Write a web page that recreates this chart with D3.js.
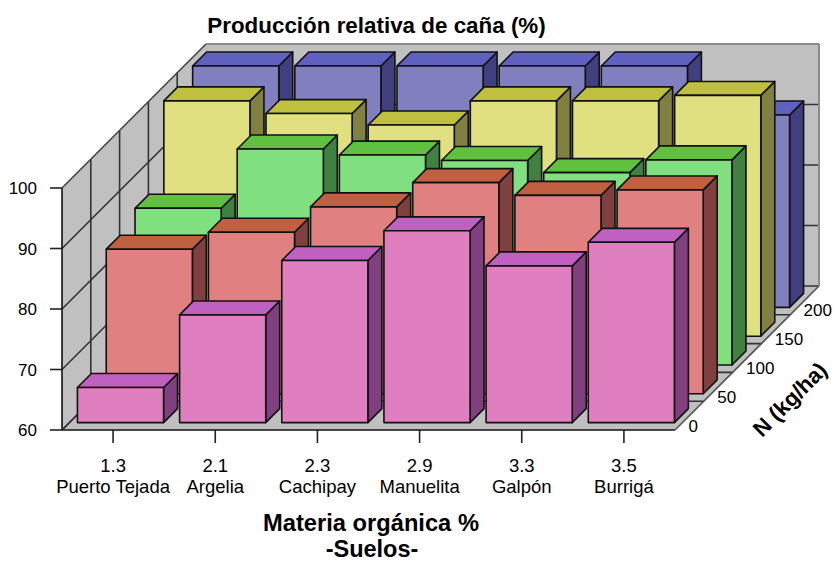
<!DOCTYPE html>
<html>
<head>
<meta charset="utf-8">
<script src="https://cdn.jsdelivr.net/npm/d3@7"></script>
<style>
html,body{margin:0;padding:0;background:#fff}
svg{display:block}
text{font-family:"Liberation Sans",Arial,sans-serif;fill:#000}
</style>
</head>
<body>
<svg id="chart" width="834" height="562"></svg>
<script>
// Relative cane yield by soil (columns) and nitrogen dose (rows, front to back)
const organicMatter = ["1.3","2.1","2.3","2.9","3.3","3.5"];
const soils = ["Puerto Tejada","Argelia","Cachipay","Manuelita","Galpón","Burrigá"];
const nitrogen = ["0","50","100","150","200"];
const yieldN0 = [65.8,77.8,86.8,91.7,85.9,89.8];
const yieldN50 = [83.9,86.7,90.9,94.9,92.8,93.7];
const yieldN100 = [85.9,95.7,94.7,93.8,91.8,93.9];
const yieldN150 = [98.9,96.8,94.9,98.9,98.9,99.8];
const yieldN200 = [99.9,99.9,99.9,99.9,99.9,91.8];
const yieldTicks = [60,70,80,90,100];

const seriesValues = [yieldN0,yieldN50,yieldN100,yieldN150,yieldN200];
const seriesFills = [
  {front:"#E07FBF",top:"#C060C0",side:"#804080"},
  {front:"#E08080",top:"#C06040",side:"#804040"},
  {front:"#80E080",top:"#60C040",side:"#408040"},
  {front:"#E0E080",top:"#C0C040",side:"#808040"},
  {front:"#8080C0",top:"#6060C0",side:"#404080"}
];

const svg = d3.select("#chart");

// Oblique projection: depth runs up and to the right at 45 degrees
const originX = 62, originY = 430, plotW = 613, plotH = 242, depth = 144;
const xScale = d3.scaleBand().domain(d3.range(organicMatter.length)).range([0,plotW]).paddingInner(0.157).paddingOuter(0.0785);
const zScale = d3.scaleBand().domain(d3.range(nitrogen.length)).range([0,depth]).paddingInner(0.515).paddingOuter(0.2575);
const yScale = d3.scaleLinear().domain([60,100]).range([0,plotH]);
const project = (x,z,h) => [originX+x+z, originY-z-h];
const pts = a => a.map(p => project(...p).join(",")).join(" ");

const stroke = "#111", sw = 1.6;
const wall = "#C0C0C0";
const walls = svg.append("g");
const [y0,y1] = yScale.range();

// Floor and the two walls
walls.append("polygon").attr("points",pts([[0,0,y0],[plotW,0,y0],[plotW,depth,y0],[0,depth,y0]])).attr("fill",wall);
walls.append("polygon").attr("points",pts([[0,0,y0],[0,depth,y0],[0,depth,y1],[0,0,y1]])).attr("fill",wall);
walls.append("polygon").attr("points",pts([[0,depth,y0],[plotW,depth,y0],[plotW,depth,y1],[0,depth,y1]])).attr("fill",wall);

const line = (a,b,color=stroke,w=sw) => {
  const [x1,yy1] = project(...a), [x2,yy2] = project(...b);
  walls.append("line").attr("x1",x1).attr("y1",yy1).attr("x2",x2).attr("y2",yy2).attr("stroke",color).attr("stroke-width",w);
};

// Value gridlines along left and back walls
yieldTicks.forEach(t => {
  const h = yScale(t);
  if (t < 100) {
    line([0,0,h],[0,depth,h],"#333");
    line([0,depth,h],[plotW,depth,h],"#333");
  }
});
// Depth divisions on floor and left wall
d3.range(1,nitrogen.length).forEach(i => {
  const z = depth*i/nitrogen.length;
  line([0,z,y0],[0,z,y1],"#333");
  line([0,z,y0],[plotW,z,y0],"#333");
});
// Outer edges
line([0,0,y0],[0,0,y1]);
line([0,0,y0],[plotW,0,y0]);
line([0,0,y0],[0,depth,y0],"#333");
line([plotW,0,y0],[plotW,depth,y0],"#555");
line([0,0,y1],[0,depth,y1],"#444");
line([0,depth,y1],[plotW,depth,y1],"#8c8c8c",2);
line([plotW,depth,y0],[plotW,depth,y1],"#8c8c8c",2);

// Bars, painted from the back row forward
const bars = svg.append("g");
d3.range(nitrogen.length).reverse().forEach(r => {
  const row = bars.append("g");
  const fill = seriesFills[r];
  const z0 = zScale(r), z1 = z0+zScale.bandwidth();
  seriesValues[r].forEach((v,c) => {
    const x0 = xScale(c), x1 = x0+xScale.bandwidth(), h = yScale(v);
    const g = row.append("g").attr("stroke",stroke).attr("stroke-width",sw).attr("stroke-linejoin","round");
    g.append("polygon").attr("points",pts([[x1,z0,0],[x1,z1,0],[x1,z1,h],[x1,z0,h]])).attr("fill",fill.side);
    g.append("polygon").attr("points",pts([[x0,z0,h],[x1,z0,h],[x1,z1,h],[x0,z1,h]])).attr("fill",fill.top);
    g.append("polygon").attr("points",pts([[x0,z0,0],[x1,z0,0],[x1,z0,h],[x0,z0,h]])).attr("fill",fill.front);
  });
});

// Axis ticks and labels
const labels = svg.append("g");
const axisGray = "#222";
yieldTicks.forEach(t => {
  const y = originY-yScale(t);
  labels.append("line").attr("x1",50).attr("x2",originX).attr("y1",y).attr("y2",y).attr("stroke",axisGray).attr("stroke-width",sw);
  labels.append("text").attr("x",37).attr("y",y+6).attr("text-anchor","end").attr("font-size",17).text(t);
});
organicMatter.forEach((m,c) => {
  const x = originX+plotW*(c+0.5)/organicMatter.length;
  labels.append("line").attr("x1",x).attr("x2",x).attr("y1",originY).attr("y2",443).attr("stroke",axisGray).attr("stroke-width",sw);
  labels.append("text").attr("x",x).attr("y",472).attr("text-anchor","middle").attr("font-size",18.5).text(m);
  labels.append("text").attr("x",x).attr("y",493).attr("text-anchor","middle").attr("font-size",18.5).text(soils[c]);
});
nitrogen.forEach((n,i) => {
  const z = depth*(i+0.5)/nitrogen.length;
  const [x,y] = project(plotW,z,0);
  labels.append("text").attr("x",x-1).attr("y",y+16).attr("font-size",17).text(n);
});
labels.append("text").attr("x",376.5).attr("y",33).attr("text-anchor","middle").attr("font-size",22.4).attr("font-weight","bold").text("Producción relativa de caña (%)");
labels.append("text").attr("x",371).attr("y",531).attr("text-anchor","middle").attr("font-size",23.7).attr("font-weight","bold").text("Materia orgánica %");
labels.append("text").attr("x",372).attr("y",556.5).attr("text-anchor","middle").attr("font-size",23.5).attr("font-weight","bold").text("-Suelos-");
labels.append("text").attr("transform","translate(762,438) rotate(-45)").attr("font-size",22).attr("font-weight","bold").text("N (kg/ha)");
</script>
</body>
</html>
